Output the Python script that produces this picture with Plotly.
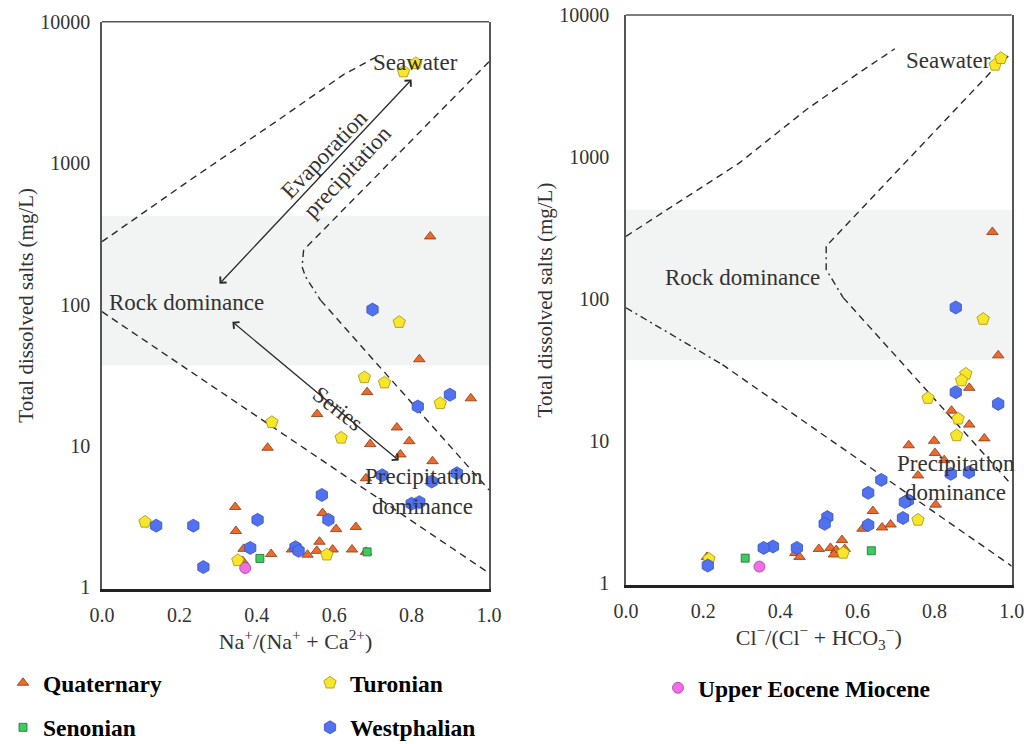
import math
import plotly.graph_objects as go

# ---------------- data ----------------
# Left panel: Na+/(Na+ + Ca2+) vs TDS
quat_na_x = [0.848, 0.82, 0.685, 0.953, 0.556, 0.762, 0.794, 0.693, 0.428, 0.771, 0.854, 0.682,
             0.344, 0.57, 0.346, 0.605, 0.656, 0.562, 0.366, 0.437, 0.491, 0.531, 0.555, 0.596,
             0.646, 0.682, 0.364]
quat_na_y = [303, 41, 24, 21.7, 16.8, 13.5, 10.8, 10.3, 9.7, 8.7, 7.8, 5.9,
             3.7, 3.35, 2.5, 2.58, 2.67, 2.1, 1.87, 1.72, 1.85, 1.70, 1.81, 1.85,
             1.85, 1.78, 1.53]
tur_na_x = [0.779, 0.811, 0.768, 0.678, 0.73, 0.874, 0.439, 0.618, 0.111, 0.351, 0.581]
tur_na_y = [4440, 5070, 75, 30.5, 28, 20, 14.7, 11.4, 2.9, 1.55, 1.70]
west_na_x = [0.699, 0.899, 0.816, 0.917, 0.724, 0.852, 0.568, 0.8, 0.82, 0.402, 0.585,
             0.14, 0.236, 0.383, 0.5, 0.508, 0.262]
west_na_y = [92, 23, 19, 6.4, 6.2, 5.6, 4.5, 3.9, 4.0, 3.0, 3.0,
             2.73, 2.73, 1.9, 1.92, 1.81, 1.39]
sen_na_x = [0.408, 0.685]
sen_na_y = [1.6, 1.78]
eoc_na_x = [0.37]
eoc_na_y = [1.37]

# Right panel: Cl-/(Cl- + HCO3-) vs TDS
quat_cl_x = [0.95, 0.965, 0.89, 0.844, 0.89, 0.929, 0.733, 0.799, 0.801, 0.825, 0.757, 0.803,
             0.64, 0.613, 0.664, 0.686, 0.56, 0.5, 0.53, 0.545, 0.567, 0.539, 0.439, 0.45, 0.21]
quat_cl_y = [296, 40, 23.6, 16.3, 13, 10.4, 9.3, 10.0, 8.2, 7.3, 5.7, 3.55,
             3.2, 2.4, 2.45, 2.57, 2.0, 1.73, 1.76, 1.7, 1.73, 1.58, 1.62, 1.52, 1.52]
tur_cl_x = [0.957, 0.972, 0.926, 0.881, 0.87, 0.783, 0.861, 0.857, 0.757, 0.563, 0.215]
tur_cl_y = [4450, 4960, 72, 29.6, 26.6, 20, 14.3, 10.9, 2.77, 1.62, 1.47]
west_cl_x = [0.855, 0.855, 0.965, 0.842, 0.889, 0.662, 0.628, 0.731, 0.723, 0.522, 0.515,
             0.718, 0.628, 0.381, 0.357, 0.443, 0.212]
west_cl_y = [87, 22, 18.2, 5.85, 6.0, 5.3, 4.3, 3.8, 3.7, 2.9, 2.6,
             2.86, 2.55, 1.8, 1.76, 1.76, 1.32]
sen_cl_x = [0.309, 0.636]
sen_cl_y = [1.49, 1.68]
eoc_cl_x = [0.346]
eoc_cl_y = [1.30]

# Gibbs boundary curves
na_upper_x = [0.0, 0.228, 0.453, 0.625, 0.707]
na_upper_y = [278, 760, 1995, 4240, 5600]
na_right_top_x = [1.0, 0.521]
na_right_top_y = [5210, 243]
na_right_bend_x = [0.521, 0.517, 0.526, 0.565]
na_right_bend_y = [243, 185, 157, 107]
na_right_low_x = [0.565, 1.0]
na_right_low_y = [107, 4.88]
na_lower_x = [0.0, 1.0]
na_lower_y = [89, 1.26]

cl_upper_x = [0.0, 0.121, 0.294, 0.468, 0.597, 0.697]
cl_upper_y = [276, 449, 908, 2158, 3800, 5780]
cl_right_top_x = [0.991, 0.948, 0.519]
cl_right_top_y = [5130, 4020, 235]
cl_right_bend_x = [0.519, 0.519, 0.563]
cl_right_bend_y = [235, 161, 102]
cl_right_low_x = [0.563, 1.0]
cl_right_low_y = [102, 4.9]
cl_lower_dd_x = [0.0, 0.25]
cl_lower_dd_y = [86.5, 34.4]
cl_lower_x = [0.25, 1.0]
cl_lower_y = [34.4, 1.31]

band_low, band_high = 37, 425

x_ticks = [0.0, 0.2, 0.4, 0.6, 0.8, 1.0]
y_ticks = [1, 10, 100, 1000, 10000]

# ---------------- styling ----------------
SERIF = "Liberation Serif, Tinos, Times New Roman, serif"
INK = "#333333"
styles = {
    "Quaternary": dict(symbol="triangle-up", size=10, color="#EB6A2E", line=dict(color="#8A3A12", width=0.8)),
    "Senonian": dict(symbol="square", size=8, color="#3DCB5E", line=dict(color="#1D6E35", width=0.8)),
    "Turonian": dict(symbol="pentagon", size=13, color="#F6E62C", line=dict(color="#A89200", width=0.8)),
    "Westphalian": dict(symbol="hexagon", size=13, color="#5271EE", line=dict(color="#3350C0", width=0.8)),
    "Upper Eocene Miocene": dict(symbol="circle", size=11, color="#F06DE6", line=dict(color="#A43C9E", width=0.8)),
}
legend_of = {"Quaternary": "legend", "Senonian": "legend", "Turonian": "legend2",
             "Westphalian": "legend2", "Upper Eocene Miocene": "legend3"}

fig = go.Figure()

# background bands
for xa, ya in (("x", "y"), ("x2", "y2")):
    fig.add_trace(go.Scatter(x=[0, 1, 1, 0, 0], y=[band_low, band_low, band_high, band_high, band_low],
                             mode="lines", fill="toself", fillcolor="#F2F3F3", line=dict(width=0),
                             hoverinfo="skip", showlegend=False, xaxis=xa, yaxis=ya))

DASH = "7px,5px"
DASHDOT = "7px,4px,2px,4px"
lines = [
    (na_upper_x, na_upper_y, DASH, "x", "y"),
    (na_right_top_x, na_right_top_y, DASH, "x", "y"),
    (na_right_bend_x, na_right_bend_y, DASHDOT, "x", "y"),
    (na_right_low_x, na_right_low_y, DASH, "x", "y"),
    (na_lower_x, na_lower_y, DASH, "x", "y"),
    (cl_upper_x, cl_upper_y, DASH, "x2", "y2"),
    (cl_right_top_x, cl_right_top_y, DASH, "x2", "y2"),
    (cl_right_bend_x, cl_right_bend_y, DASHDOT, "x2", "y2"),
    (cl_right_low_x, cl_right_low_y, DASH, "x2", "y2"),
    (cl_lower_dd_x, cl_lower_dd_y, DASHDOT, "x2", "y2"),
    (cl_lower_x, cl_lower_y, DASH, "x2", "y2"),
]
for lx, ly, dash, xa, ya in lines:
    fig.add_trace(go.Scatter(x=lx, y=ly, mode="lines", line=dict(color="#2b2b2b", width=1.4, dash=dash),
                             hoverinfo="skip", showlegend=False, xaxis=xa, yaxis=ya))

series = [
    ("Quaternary", quat_na_x, quat_na_y, quat_cl_x, quat_cl_y),
    ("Senonian", sen_na_x, sen_na_y, sen_cl_x, sen_cl_y),
    ("Turonian", tur_na_x, tur_na_y, tur_cl_x, tur_cl_y),
    ("Westphalian", west_na_x, west_na_y, west_cl_x, west_cl_y),
    ("Upper Eocene Miocene", eoc_na_x, eoc_na_y, eoc_cl_x, eoc_cl_y),
]
for name, nx, ny, cx, cy in series:
    st = styles[name]
    mk = dict(symbol=st["symbol"], size=st["size"], color=st["color"], line=st["line"])
    fig.add_trace(go.Scatter(x=nx, y=ny, mode="markers", marker=mk, name=name,
                             legendgroup=name, legend=legend_of[name], showlegend=True,
                             xaxis="x", yaxis="y"))
    fig.add_trace(go.Scatter(x=cx, y=cy, mode="markers", marker=mk, name=name,
                             legendgroup=name, legend=legend_of[name], showlegend=False,
                             xaxis="x2", yaxis="y2"))

L = math.log10
txt_font = dict(family=SERIF, size=23, color=INK)
annotations = [
    dict(x=0.811, y=3.708, text="Seawater", xref="x", yref="y"),
    dict(x=0.574, y=3.06, text="Evaporation", textangle=-46, xref="x", yref="y"),
    dict(x=0.635, y=2.94, text="precipitation", textangle=-47, xref="x", yref="y"),
    dict(x=0.218, y=2.014, text="Rock dominance", xref="x", yref="y"),
    dict(x=0.609, y=1.267, text="Series", textangle=38, xref="x", yref="y"),
    dict(x=0.832, y=0.783, text="Precipitation", xref="x", yref="y"),
    dict(x=0.829, y=0.569, text="dominance", xref="x", yref="y"),
    dict(x=0.835, y=3.679, text="Seawater", xref="x2", yref="y2"),
    dict(x=0.303, y=2.152, text="Rock dominance", xref="x2", yref="y2"),
    dict(x=0.855, y=0.839, text="Precipitation", xref="x2", yref="y2"),
    dict(x=0.853, y=0.637, text="dominance", xref="x2", yref="y2"),
]
for a in annotations:
    a.update(showarrow=False, font=txt_font)

# double-headed arrows
arrows = [
    ((0.80, 3900), (0.30, 137)),
    ((0.767, 7.9), (0.333, 77)),
]
for (hx, hy), (tx, ty) in arrows:
    annotations.append(dict(x=hx, y=L(hy), ax=tx, ay=L(ty), xref="x", yref="y", axref="x", ayref="y",
                            text="", showarrow=True, arrowhead=4, startarrowhead=4, arrowside="end+start",
                            arrowsize=1.3, startarrowsize=1.3, arrowwidth=1.3, arrowcolor="#2b2b2b"))

# top frame edges
shapes = []
for xr, yr in (("x domain", "y domain"), ("x2 domain", "y2 domain")):
    shapes.append(dict(type="line", xref=xr, yref=yr, x0=0, x1=1, y0=1, y1=1,
                       line=dict(color="#555555", width=1.5)))

tick_font = dict(family=SERIF, size=20, color=INK)
ytitle_font = dict(family=SERIF, size=21, color=INK)
xtitle_font = dict(family=SERIF, size=22, color=INK)


def xax(domain, title):
    return dict(domain=domain, range=[0, 1], tickvals=x_ticks, ticktext=[f"{v:.1f}" for v in x_ticks],
                showgrid=False, zeroline=False, showline=True, linecolor="#222222", linewidth=2.5,
                ticks="", ticklabelstandoff=6, tickfont=tick_font, automargin=False,
                title=dict(text=title, font=xtitle_font, standoff=8), fixedrange=True)


def yax(domain, rng, standoff_lbl):
    return dict(domain=domain, type="log", range=rng, tickvals=y_ticks, ticktext=[str(v) for v in y_ticks],
                showgrid=False, zeroline=False, showline=True, linecolor="#555555", linewidth=1.5,
                mirror=True, ticks="", ticklabelstandoff=standoff_lbl, tickfont=tick_font, automargin=False,
                title=dict(text="Total dissolved salts (mg/L)", font=ytitle_font, standoff=1),
                fixedrange=True)


leg_font = dict(family=SERIF, size=23.5, color="black", weight="bold")
leg_common = dict(orientation="v", xanchor="left", yanchor="top", font=leg_font, tracegroupgap=11,
                  bgcolor="rgba(0,0,0,0)", borderwidth=0, itemclick=False, itemdoubleclick=False)

fig.update_layout(
    width=1027, height=744, margin=dict(l=0, r=0, t=0, b=0, autoexpand=False),
    font=dict(family=SERIF, color=INK),
    paper_bgcolor="white", plot_bgcolor="white",
    xaxis=xax([102 / 1027, 489 / 1027], "Na<sup>+</sup>/(Na<sup>+</sup> + Ca<sup>2+</sup>)"),
    yaxis=yax([1 - 589 / 744, 1 - 21.7 / 744], [-0.012, 4.0], 6),
    xaxis2=xax([626 / 1027, 1011.7 / 1027], "Cl<sup>−</sup>/(Cl<sup>−</sup> + HCO<sub>3</sub><sup>−</sup>)"),
    yaxis2=yax([1 - 585 / 744, 1 - 15 / 744], [-0.016, 4.0], 11),
    annotations=annotations,
    shapes=shapes,
    showlegend=True,
    legend=dict(x=3 / 1027, y=1 - 661 / 744, **leg_common),
    legend2=dict(x=310 / 1027, y=1 - 661 / 744, **leg_common),
    legend3=dict(x=658 / 1027, y=1 - 666 / 744, **leg_common),
)
fig.layout.xaxis.anchor = "y"
fig.layout.yaxis.anchor = "x"
fig.layout.xaxis2.anchor = "y2"
fig.layout.yaxis2.anchor = "x2"

fig.write_html("out.html")
